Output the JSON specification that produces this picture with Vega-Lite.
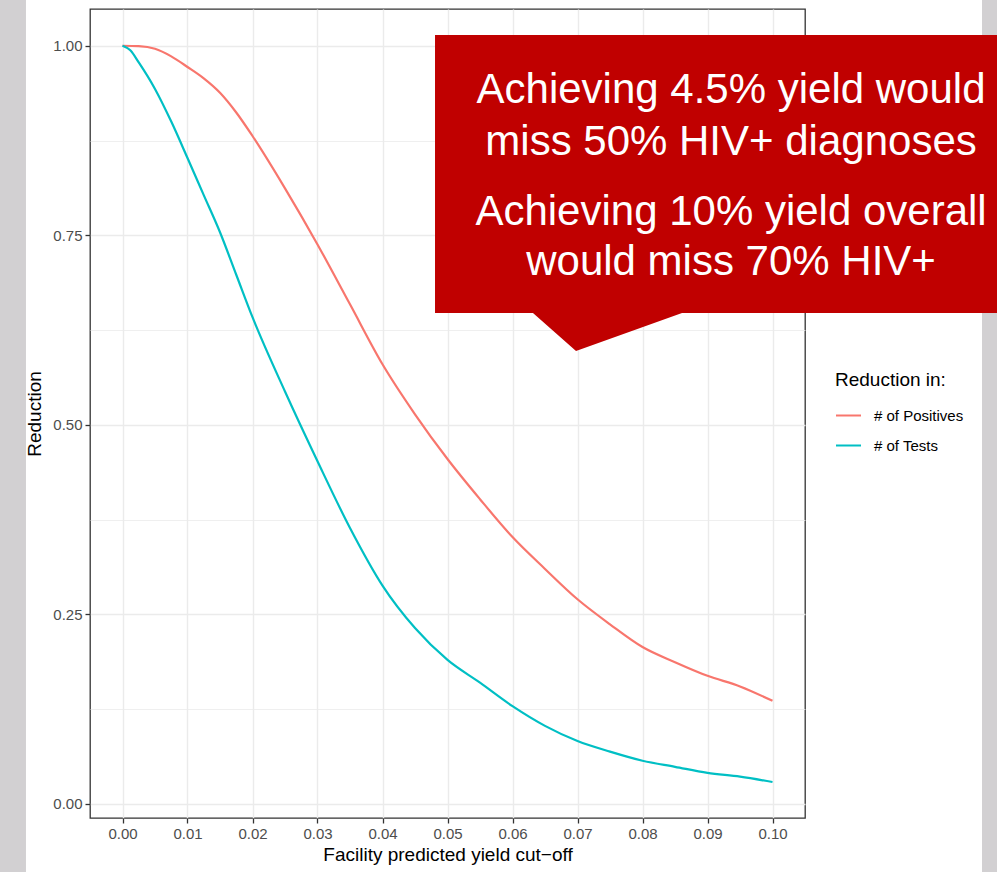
{
  "$schema": "https://vega.github.io/schema/vega-lite/v6.json",
  "autosize": {"type": "none"},
  "padding": {"left": 90, "top": 9, "right": 192, "bottom": 54},
  "width": 715,
  "height": 809,
  "background": "white",
  "config": {
    "font": "Liberation Sans",
    "view": {"stroke": "#333333", "strokeWidth": 1.3}
  },
  "datasets": {
    "curves": [
      {"cutoff": 0.0, "series": "# of Positives", "reduction": 1.0},
      {"cutoff": 0.0025, "series": "# of Positives", "reduction": 0.9995},
      {"cutoff": 0.005, "series": "# of Positives", "reduction": 0.996},
      {"cutoff": 0.0075, "series": "# of Positives", "reduction": 0.986},
      {"cutoff": 0.01, "series": "# of Positives", "reduction": 0.972},
      {"cutoff": 0.0125, "series": "# of Positives", "reduction": 0.957},
      {"cutoff": 0.015, "series": "# of Positives", "reduction": 0.938},
      {"cutoff": 0.0175, "series": "# of Positives", "reduction": 0.912},
      {"cutoff": 0.02, "series": "# of Positives", "reduction": 0.881},
      {"cutoff": 0.025, "series": "# of Positives", "reduction": 0.812},
      {"cutoff": 0.03, "series": "# of Positives", "reduction": 0.738},
      {"cutoff": 0.035, "series": "# of Positives", "reduction": 0.659},
      {"cutoff": 0.04, "series": "# of Positives", "reduction": 0.58},
      {"cutoff": 0.045, "series": "# of Positives", "reduction": 0.514},
      {"cutoff": 0.05, "series": "# of Positives", "reduction": 0.455},
      {"cutoff": 0.055, "series": "# of Positives", "reduction": 0.402},
      {"cutoff": 0.06, "series": "# of Positives", "reduction": 0.352},
      {"cutoff": 0.065, "series": "# of Positives", "reduction": 0.31},
      {"cutoff": 0.07, "series": "# of Positives", "reduction": 0.27},
      {"cutoff": 0.075, "series": "# of Positives", "reduction": 0.237},
      {"cutoff": 0.08, "series": "# of Positives", "reduction": 0.207},
      {"cutoff": 0.085, "series": "# of Positives", "reduction": 0.187},
      {"cutoff": 0.09, "series": "# of Positives", "reduction": 0.169},
      {"cutoff": 0.095, "series": "# of Positives", "reduction": 0.155},
      {"cutoff": 0.1, "series": "# of Positives", "reduction": 0.136},
      {"cutoff": 0.0, "series": "# of Tests", "reduction": 1.0},
      {"cutoff": 0.0012, "series": "# of Tests", "reduction": 0.994},
      {"cutoff": 0.0025, "series": "# of Tests", "reduction": 0.978},
      {"cutoff": 0.005, "series": "# of Tests", "reduction": 0.943},
      {"cutoff": 0.0075, "series": "# of Tests", "reduction": 0.9},
      {"cutoff": 0.01, "series": "# of Tests", "reduction": 0.852},
      {"cutoff": 0.0125, "series": "# of Tests", "reduction": 0.803},
      {"cutoff": 0.015, "series": "# of Tests", "reduction": 0.754},
      {"cutoff": 0.0175, "series": "# of Tests", "reduction": 0.698},
      {"cutoff": 0.02, "series": "# of Tests", "reduction": 0.642},
      {"cutoff": 0.025, "series": "# of Tests", "reduction": 0.544},
      {"cutoff": 0.03, "series": "# of Tests", "reduction": 0.452},
      {"cutoff": 0.035, "series": "# of Tests", "reduction": 0.364},
      {"cutoff": 0.04, "series": "# of Tests", "reduction": 0.288},
      {"cutoff": 0.045, "series": "# of Tests", "reduction": 0.232},
      {"cutoff": 0.05, "series": "# of Tests", "reduction": 0.19},
      {"cutoff": 0.055, "series": "# of Tests", "reduction": 0.16},
      {"cutoff": 0.06, "series": "# of Tests", "reduction": 0.129},
      {"cutoff": 0.065, "series": "# of Tests", "reduction": 0.103},
      {"cutoff": 0.07, "series": "# of Tests", "reduction": 0.083},
      {"cutoff": 0.075, "series": "# of Tests", "reduction": 0.069},
      {"cutoff": 0.08, "series": "# of Tests", "reduction": 0.057},
      {"cutoff": 0.085, "series": "# of Tests", "reduction": 0.049},
      {"cutoff": 0.09, "series": "# of Tests", "reduction": 0.041},
      {"cutoff": 0.095, "series": "# of Tests", "reduction": 0.036},
      {"cutoff": 0.1, "series": "# of Tests", "reduction": 0.029}
    ],
    "strips": [
      {"x": -0.03, "x2": -0.01485, "y": 1.12, "y2": -0.12},
      {"x": 0.13223, "x2": 0.145, "y": 1.12, "y2": -0.12}
    ],
    "callout": [
      {"x": 0.04808, "top": 1.0142, "bottom": 0.6476},
      {"x": 0.06315, "top": 1.0142, "bottom": 0.6476},
      {"x": 0.06977, "top": 1.0142, "bottom": 0.5975},
      {"x": 0.08608, "top": 1.0142, "bottom": 0.6476},
      {"x": 0.13577, "top": 1.0142, "bottom": 0.6476}
    ],
    "callout_text": [
      {"x": 0.09362, "y": 0.9246, "label": "Achieving 4.5% yield would"},
      {"x": 0.09362, "y": 0.856, "label": "miss 50% HIV+ diagnoses"},
      {"x": 0.09362, "y": 0.7637, "label": "Achieving 10% yield overall"},
      {"x": 0.09362, "y": 0.6977, "label": "would miss 70% HIV+"}
    ]
  },
  "layer": [
    {
      "data": {"name": "strips"},
      "mark": {"type": "rect", "color": "#d2d0d2"},
      "encoding": {
        "x": {"field": "x", "type": "quantitative", "scale": {"domain": [-0.005, 0.105], "nice": false, "zero": false}},
        "x2": {"field": "x2"},
        "y": {"field": "y", "type": "quantitative", "scale": {"domain": [-0.0185, 1.0485], "nice": false, "zero": false}},
        "y2": {"field": "y2"}
      }
    },
    {
      "data": {"name": "curves"},
      "mark": {"type": "line", "strokeWidth": 2.2, "interpolate": "monotone"},
      "encoding": {
        "x": {
          "field": "cutoff", "type": "quantitative",
          "scale": {"domain": [-0.005, 0.105], "nice": false, "zero": false},
          "axis": {
            "title": "Facility predicted yield cut\u2212off",
            "titleFontSize": 19, "titleFontWeight": "normal", "titleColor": "#000000", "titlePadding": 4,
            "values": [0, 0.005, 0.01, 0.015, 0.02, 0.025, 0.03, 0.035, 0.04, 0.045, 0.05, 0.055, 0.06, 0.065, 0.07, 0.075, 0.08, 0.085, 0.09, 0.095, 0.1],
            "format": ".2f",
            "labelExpr": "round(datum.value*200) % 2 == 0 ? datum.label : ''",
            "labelFontSize": 15, "labelColor": "#4d4d4d", "labelPadding": 3,
            "domain": false,
            "tickColor": "#333333", "tickWidth": 1.3, "tickSize": 5,
            "tickOpacity": {"condition": {"test": "round(datum.value*200) % 2 == 0", "value": 1}, "value": 0},
            "gridColor": "#ebebeb",
            "gridWidth": {"condition": {"test": "round(datum.value*200) % 2 == 0", "value": 1.4}, "value": 0.8}
          }
        },
        "y": {
          "field": "reduction", "type": "quantitative",
          "scale": {"domain": [-0.0185, 1.0485], "nice": false, "zero": false},
          "axis": {
            "title": "Reduction",
            "titleFontSize": 19, "titleFontWeight": "normal", "titleColor": "#000000", "titlePadding": 8,
            "values": [0, 0.125, 0.25, 0.375, 0.5, 0.625, 0.75, 0.875, 1],
            "format": ".2f",
            "labelExpr": "round(datum.value*8) % 2 == 0 ? datum.label : ''",
            "labelFontSize": 15, "labelColor": "#4d4d4d", "labelPadding": 3,
            "domain": false,
            "tickColor": "#333333", "tickWidth": 1.3, "tickSize": 5,
            "tickOpacity": {"condition": {"test": "round(datum.value*8) % 2 == 0", "value": 1}, "value": 0},
            "gridColor": "#ebebeb",
            "gridWidth": {"condition": {"test": "round(datum.value*8) % 2 == 0", "value": 1.4}, "value": 0.8}
          }
        },
        "color": {
          "field": "series", "type": "nominal",
          "scale": {"domain": ["# of Positives", "# of Tests"], "range": ["#F8766D", "#00BFC4"]},
          "legend": {
            "title": "Reduction in:",
            "orient": "none", "legendX": 745, "legendY": 362,
            "padding": 0,
            "titleFontSize": 19, "titleFontWeight": "normal", "titleColor": "#000000", "titlePadding": 12,
            "labelFontSize": 15, "labelColor": "#000000", "labelOffset": 12,
            "symbolType": "stroke", "symbolSize": 625, "symbolStrokeWidth": 2,
            "rowPadding": 8
          }
        }
      }
    },
    {
      "data": {"name": "callout"},
      "mark": {"type": "area", "color": "#c00000", "opacity": 1},
      "encoding": {
        "x": {"field": "x", "type": "quantitative"},
        "y": {"field": "top", "type": "quantitative"},
        "y2": {"field": "bottom"}
      }
    },
    {
      "data": {"name": "callout_text"},
      "mark": {"type": "text", "color": "white", "fontSize": 42, "align": "center", "baseline": "alphabetic", "font": "Liberation Sans"},
      "encoding": {
        "x": {"field": "x", "type": "quantitative"},
        "y": {"field": "y", "type": "quantitative"},
        "text": {"field": "label"}
      }
    }
  ]
}
